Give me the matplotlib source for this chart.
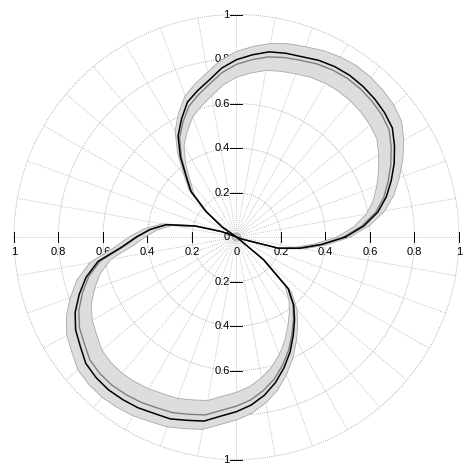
import numpy as np
import matplotlib
matplotlib.use("Agg")
import matplotlib.pyplot as plt

# --- data (angle in degrees, radius 0..1) ---
angle_deg = np.arange(0, 360, 5)

# black trace
r_black = [0.490, 0.575, 0.645, 0.697, 0.740, 0.782, 0.820, 0.855, 0.869, 0.878,
           0.884, 0.887, 0.884, 0.876, 0.862, 0.855, 0.845, 0.822, 0.797, 0.762,
           0.715, 0.680, 0.645, 0.585, 0.525, 0.440, 0.350, 0.290, 0.180, 0.080,
           0.000, 0.000, 0.070, 0.190, 0.320, 0.390, 0.450, 0.518, 0.632, 0.700,
           0.752, 0.800, 0.835, 0.857, 0.884, 0.893, 0.896, 0.892, 0.886, 0.875,
           0.870, 0.853, 0.840, 0.808, 0.785, 0.758, 0.722, 0.677, 0.625, 0.570,
           0.510, 0.455, 0.400, 0.330, 0.160, 0.000, 0.000, 0.000, 0.030, 0.195,
           0.290, 0.385]

# grey trace (mean)
r_mean = [0.482, 0.565, 0.635, 0.685, 0.725, 0.765, 0.803, 0.838, 0.853, 0.862,
          0.868, 0.870, 0.866, 0.858, 0.845, 0.835, 0.822, 0.800, 0.776, 0.742,
          0.698, 0.662, 0.625, 0.570, 0.512, 0.430, 0.345, 0.285, 0.178, 0.080,
          0.000, 0.000, 0.070, 0.190, 0.318, 0.388, 0.447, 0.512, 0.622, 0.688,
          0.737, 0.782, 0.815, 0.835, 0.860, 0.868, 0.870, 0.865, 0.858, 0.847,
          0.840, 0.825, 0.812, 0.782, 0.760, 0.735, 0.700, 0.660, 0.610, 0.557,
          0.500, 0.447, 0.395, 0.327, 0.158, 0.000, 0.000, 0.000, 0.030, 0.193,
          0.287, 0.380]

# spread of the shaded band around the mean
r_std = [0.030, 0.036, 0.042, 0.048, 0.054, 0.060, 0.065, 0.068, 0.070, 0.070,
         0.070, 0.070, 0.068, 0.066, 0.065, 0.064, 0.062, 0.060, 0.058, 0.056,
         0.054, 0.052, 0.050, 0.046, 0.040, 0.032, 0.024, 0.018, 0.010, 0.005,
         0.000, 0.000, 0.005, 0.012, 0.022, 0.030, 0.036, 0.042, 0.048, 0.054,
         0.058, 0.062, 0.066, 0.068, 0.070, 0.070, 0.070, 0.070, 0.070, 0.069,
         0.068, 0.067, 0.066, 0.064, 0.062, 0.060, 0.057, 0.053, 0.048, 0.043,
         0.038, 0.033, 0.028, 0.022, 0.012, 0.000, 0.000, 0.000, 0.003, 0.012,
         0.020, 0.026]

ring_values = [0.2, 0.4, 0.6, 0.8, 1.0]
ring_labels = ["0.2", "0.4", "0.6", "0.8", "1"]
spoke_step = 10


def to_xy(theta_deg, r):
    t = np.deg2rad(np.append(theta_deg, theta_deg[0]))
    r = np.append(r, r[0])
    return r * np.cos(t), r * np.sin(t)


plt.rcParams["font.family"] = ["Liberation Sans", "DejaVu Sans"]
plt.rcParams["font.size"] = 8

fig = plt.figure(figsize=(4.66, 4.63), dpi=100)
ax = fig.add_axes([0, 0, 1, 1])
ax.set_xlim(-1.0629, 1.0315)
ax.set_ylim(-1.0157, 1.0652)
ax.axis("off")

# --- polar grid ---
phi = np.linspace(0, 2 * np.pi, 400)
for rv in ring_values:
    ax.plot(rv * np.cos(phi), rv * np.sin(phi), color="#9a9a9a", lw=0.6,
            ls=(0, (1, 1.5)), zorder=1)
for rv in [0.006, 0.012, 0.018]:
    ax.plot(rv * np.cos(phi), rv * np.sin(phi), color="#9a9a9a", lw=0.5, zorder=1)
for a in range(0, 360, spoke_step):
    t = np.deg2rad(a)
    ax.plot([0, np.cos(t)], [0, np.sin(t)], color="#b0b0b0", lw=0.6,
            ls=(0, (1, 1.5)), zorder=1)

# --- axis ticks and labels ---
for rv, lab in zip(ring_values, ring_labels):
    for sgn in (-1, 1):
        ax.plot([sgn * rv, sgn * rv], [-0.022, 0.022], color="black", lw=0.7, zorder=2)
        ax.text(sgn * rv, -0.067, lab, ha="center", va="center", zorder=2)
        ax.plot([-0.03, 0.025], [sgn * rv, sgn * rv], color="black", lw=0.7, zorder=2)
        ax.text(-0.03, sgn * rv, lab, ha="right", va="center", zorder=2)
ax.text(0, -0.067, "0", ha="center", va="center", zorder=2)
ax.text(-0.03, 0, "0", ha="right", va="center", zorder=2)

# --- shaded band ---
r_mean = np.array(r_mean)
r_std = np.array(r_std)
xo, yo = to_xy(angle_deg, r_mean + r_std)
xi, yi = to_xy(angle_deg, np.clip(r_mean - r_std, 0, None))
ax.fill(np.concatenate([xo, xi[::-1]]), np.concatenate([yo, yi[::-1]]),
        color="#dddddd", lw=0, zorder=3)
ax.plot(xo, yo, color="#a8a8a8", lw=0.6, zorder=3)
ax.plot(xi, yi, color="#a8a8a8", lw=0.6, zorder=3)

# --- traces ---
xg, yg = to_xy(angle_deg, r_mean)
ax.plot(xg, yg, color="#808080", lw=1.0, zorder=4)
xb, yb = to_xy(angle_deg, np.array(r_black))
ax.plot(xb, yb, color="black", lw=1.1, zorder=5)

fig.savefig("out.png", dpi=100)
